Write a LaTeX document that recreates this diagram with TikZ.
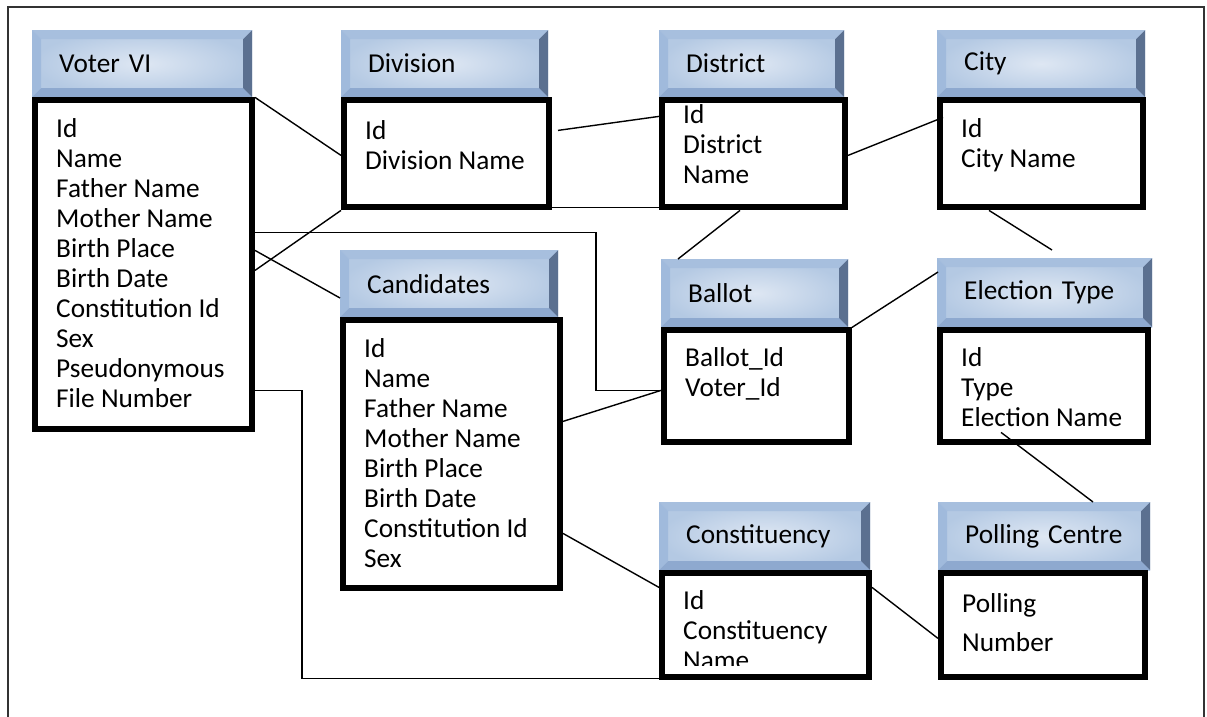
\documentclass[tikz,border=0pt]{standalone}
\usepackage{fontspec}
\setmainfont{Carlito}
\usetikzlibrary{positioning, calc}
\definecolor{hdrout}{RGB}{180,201,227}
\definecolor{hdrin}{RGB}{222,231,243}
\definecolor{hdrtop}{RGB}{167,191,222}
\definecolor{hdrleft}{RGB}{160,186,220}
\definecolor{hdrbot}{RGB}{142,169,207}
\definecolor{hdrright}{RGB}{91,112,144}
\newcommand{\tblfont}{\fontsize{27.3}{30}\selectfont}

\begin{document}
\begin{tikzpicture}[
    x=1pt, y=-1pt,
    hdr/.style={rectangle, anchor=north west, minimum height=67pt, inner xsep=27pt, inner ysep=0pt, align=left, font=\tblfont, inner color=hdrin, outer color=hdrout,
        path picture={
            \coordinate (pnw) at (path picture bounding box.north west);
            \coordinate (pne) at (path picture bounding box.north east);
            \coordinate (psw) at (path picture bounding box.south west);
            \coordinate (pse) at (path picture bounding box.south east);
            \fill[hdrtop] (pnw) -- (pne) -- ([shift={(-9pt,-9pt)}]pne) -- ([shift={(9pt,-9pt)}]pnw) -- cycle;
            \fill[hdrleft] (pnw) -- ([shift={(9pt,-9pt)}]pnw) -- ([shift={(9pt,9pt)}]psw) -- (psw) -- cycle;
            \fill[hdrbot] (psw) -- ([shift={(9pt,9pt)}]psw) -- ([shift={(-9pt,9pt)}]pse) -- (pse) -- cycle;
            \fill[hdrright] (pne) -- (pse) -- ([shift={(-9pt,9pt)}]pse) -- ([shift={(-9pt,-9pt)}]pne) -- cycle;
        }},
    tbl/.style={rectangle, draw=black, line width=6pt, inner sep=0pt},
    fields/.style={anchor=north west, align=left, inner sep=0pt, font=\tblfont},
    conn/.style={line width=1.4pt},
    frame/.style={line width=1.5pt, draw=black!80}
]
\useasboundingbox (0,0) rectangle (1207,717);

% Page frame
\draw[frame] (8,717) -- (8,7) -- (1204,7) -- (1204,717);

% Top row
\node[hdr, text width=166pt] (voterh) at (32,30) {Voter VI};
\node[tbl, minimum width=217pt, minimum height=329pt, below right=0pt of voterh.south west] (voter) {};
\node[fields] (voterf) at ($(voter.north west)+(24,19)$) {\strut Id\\Name\\Father Name\\Mother Name\\Birth Place\\Birth Date\\Constitution Id\\Sex\\Pseudonymous\\File Number};

\node[hdr, text width=153pt] (divh) at (341,30) {Division};
\node[tbl, minimum width=205pt, minimum height=107pt, below right=0pt of divh.south west] (division) {};
\node[fields] (divf) at ($(division.north west)+(24,21)$) {\strut Id\\Division Name};

\node[hdr, text width=131pt] (disth) at (659,30) {District};
\node[tbl, minimum width=183pt, minimum height=107pt, below right=0pt of disth.south west] (district) {};
\node[fields] (distf) at ($(district.north west)+(24,5)$) {\strut Id\\District\\Name};

\node[hdr, text width=154pt] (cityh) at (937,30) {City};
\node[tbl, minimum width=203pt, minimum height=107pt, below right=0pt of cityh.south west] (city) {};
\node[fields] (cityf) at ($(city.north west)+(24,19)$) {\strut Id\\City Name};

% Middle row
\node[hdr, text width=164pt] (candh) at (340,250) {Candidates};
\node[tbl, minimum width=217pt, minimum height=268pt, below right=0pt of candh.south west] (cand) {};
\node[fields] (candf) at ($(cand.north west)+(24,19)$) {\strut Id\\Name\\Father Name\\Mother Name\\Birth Place\\Birth Date\\Constitution Id\\Sex};

\node[hdr, text width=133pt, minimum height=68pt] (ballh) at (661,259) {Ballot};
\node[tbl, minimum width=185pt, minimum height=112pt, below right=0pt of ballh.south west] (ballot) {};
\node[fields] (ballf) at ($(ballot.north west)+(24,18)$) {\strut Ballot\_Id\\Voter\_Id};

\node[hdr, text width=161pt, minimum height=69pt] (electh) at (937,258) {Election Type};
\node[tbl, minimum width=208pt, minimum height=112pt, below right=0pt of electh.south west] (elect) {};
\node[fields] (electf) at ($(elect.north west)+(24,18)$) {\strut Id\\Type\\Election Name};

% Bottom row
\node[hdr, text width=157pt, minimum height=68pt] (consth) at (659,502) {Constituency};
\node[tbl, minimum width=207pt, minimum height=104pt, below right=0pt of consth.south west] (const) {};
\begin{scope}
    \clip (const.north west) rectangle ($(const.south east)+(0,-15)$);
    \node[fields] (constf) at ($(const.north west)+(24,18)$) {\strut Id\\Constituency\\Name};
\end{scope}

\node[hdr, text width=158pt, minimum height=68pt] (pollh) at (938,502) {Polling Centre};
\node[tbl, minimum width=204pt, minimum height=104pt, below right=0pt of pollh.south west] (poll) {};
\node[fields] (pollf) at ($(poll.north west)+(24,21)$) {\strut Polling\\[9pt]Number};

% Relations
\draw[conn] (voter.north east) -- ($(division.north west)+(0,58)$);
\draw[conn] ($(voter.north east)+(0,173)$) -- (division.south west);
\draw[conn] ($(voter.north east)+(0,135)$) -- ++(341,0) |- ($(ballot.north west)+(0,63)$);
\draw[conn] ($(voter.north east)+(0,153)$) -- ($(candh.north west)+(0,48)$);
\draw[conn] ($(voter.north east)+(0,293)$) -- ++(47,0) |- ($(const.south west)+(0,-2)$);
\draw[conn] ($(division.north east)+(6,33)$) -- ($(district.north west)+(0,19)$);
\draw[conn] ($(division.south east)+(0,-3)$) -- ($(district.south west)+(0,-3)$);
\draw[conn] ($(district.south west)+(81,0)$) -- ($(ballh.north west)+(17,0)$);
\draw[conn] ($(district.north east)+(0,58)$) -- ($(city.north west)+(6,20)$);
\draw[conn] ($(city.south west)+(52,0)$) -- ($(electh.north west)+(115,-8)$);
\draw[conn] (ballot.north east) -- ($(electh.north west)+(1,14)$);
\draw[conn] ($(cand.north east)+(0,104)$) -- ($(ballot.north west)+(0,63)$);
\draw[conn] ($(cand.north east)+(0,216)$) -- ($(const.north west)+(0,17)$);
\draw[conn] ($(elect.north west)+(64,105)$) -- ($(pollh.north west)+(155,0)$);
\draw[conn] ($(const.north east)+(0,17)$) -- ($(poll.north west)+(0,68)$);

\end{tikzpicture}
\end{document}
